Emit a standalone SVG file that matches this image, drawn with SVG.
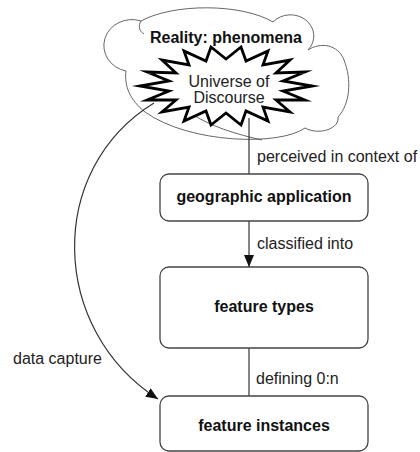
<svg xmlns="http://www.w3.org/2000/svg" width="420" height="452" viewBox="0 0 420 452">
<defs>
<style>
.lbl{font-family:"Liberation Sans",Arial,sans-serif;font-size:16px;fill:#222}
.bold{font-family:"Liberation Sans",Arial,sans-serif;font-size:16px;font-weight:bold;fill:#111;text-anchor:middle}
.box{fill:#fff;stroke:#444;stroke-width:1.3}
.cloud{fill:#fff;stroke:#555;stroke-width:0.9}
.inner{fill:none;stroke:#555;stroke-width:0.9}
.star{fill:#fff;stroke:#000;stroke-width:2.8;stroke-linejoin:miter;stroke-miterlimit:10}
.conn{fill:none;stroke:#333;stroke-width:1.2}
</style>
<marker id="arr" viewBox="0 0 12 10" refX="12" refY="5" markerWidth="12" markerHeight="10" markerUnits="userSpaceOnUse" orient="auto">
<path d="M0,0 L12,5 L0,10 Z" fill="#111"/>
</marker>
</defs>
<rect width="420" height="452" fill="#fff"/>
<g id="reality">
<path class="cloud" d="M126,71 A28,26 0 1 1 141,21 A80,31.5 0 0 1 273,22 A22,20 0 0 1 308,50 C320,42 338,44 344,60 C352,80 350,104 338,117 C340,128 320,136 305,128 C280,146 190,144 145,112 C130,100 124,86 126,71 Z"/>
<path class="inner" d="M141,21 C138,26 139,31 144,34"/>
<path class="inner" d="M192,114 C210,126 235,134 262,140"/>
<text class="bold" x="226" y="43">Reality: phenomena</text>
</g>
<g id="universe">
<path class="star" d="M312,86 L283,91 L305,100 L276,100 L290,112 L263,107 L268,121 L246,111 L241,125 L226,113 L211,125 L206,111 L184,121 L189,107 L162,112 L176,100 L147,100 L169,91 L140,86 L169,81 L147,72 L176,73 L162,60 L189,65 L184,51 L206,61 L211,47 L226,59 L241,47 L246,61 L268,51 L263,65 L290,60 L276,73 L305,72 L283,81 Z"/>
<text class="lbl" x="229" y="87" text-anchor="middle">Universe of</text>
<text class="lbl" x="229" y="103" text-anchor="middle">Discourse</text>
</g>
<g id="connectors">
<line class="conn" x1="249" y1="118" x2="249" y2="174"/>
<line class="conn" x1="249" y1="221" x2="249" y2="267" marker-end="url(#arr)"/>
<line class="conn" x1="249" y1="348" x2="249" y2="396"/>
<path class="conn" d="M154,103 C45,170 50,330 158,399" marker-end="url(#arr)"/>
<text class="lbl" x="257" y="162">perceived in context of</text>
<text class="lbl" x="257" y="249">classified into</text>
<text class="lbl" x="256" y="384">defining 0:n</text>
<text class="lbl" x="13" y="364">data capture</text>
</g>
<g id="geographic-application">
<rect class="box" x="160" y="174" width="208" height="47" rx="9"/>
<text class="bold" x="264" y="202">geographic application</text>
</g>
<g id="feature-types">
<rect class="box" x="160" y="267" width="208" height="81" rx="9"/>
<text class="bold" x="264" y="312">feature types</text>
</g>
<g id="feature-instances">
<rect class="box" x="160" y="396" width="208" height="55" rx="9"/>
<text class="bold" x="264" y="431">feature instances</text>
</g>
</svg>
